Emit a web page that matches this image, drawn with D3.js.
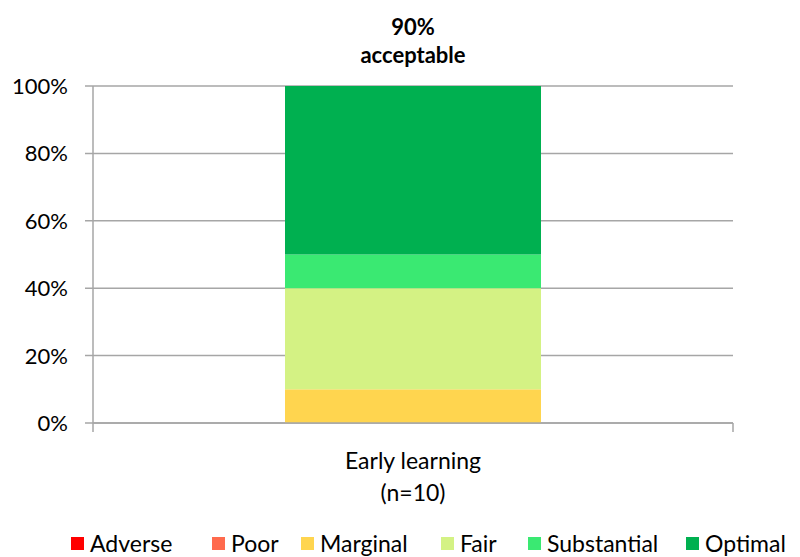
<!DOCTYPE html>
<html><head><meta charset="utf-8">
<script src="https://cdn.jsdelivr.net/npm/d3@7"></script>
<style>body{margin:0;background:#fff}svg{display:block}text{font-family:Lato,"Open Sans",sans-serif}</style>
</head><body>
<svg id="c" width="800" height="557"></svg>
<script>
const categories = ["Early learning\n(n=10)"];
const seriesNames = ["Adverse","Poor","Marginal","Fair","Substantial","Optimal"];
const seriesColors = ["#FF0000","#FF6A4D","#FFD54F","#D4F284","#3AE972","#00B050"];
const seriesValues = [[0],[0],[0.10],[0.30],[0.10],[0.50]];
const yTicks = [0,0.2,0.4,0.6,0.8,1.0];
const titleLines = ["90%","acceptable"];

const svg = d3.select("#c");
const m = {l:93, r:733, t:86, b:423};
const x = d3.scaleBand().domain(categories).range([m.l,m.r]).paddingInner(0.6).paddingOuter(0.3);
const y = d3.scaleLinear().domain([0,1]).range([m.b,m.t]);

svg.append("g").selectAll("line").data(yTicks).join("line")
  .attr("x1",m.l-8).attr("x2",m.r).attr("y1",d=>y(d)).attr("y2",d=>y(d))
  .attr("stroke","#A6A6A6").attr("stroke-width",1.5);
svg.append("line").attr("x1",m.l).attr("x2",m.l).attr("y1",m.t).attr("y2",m.b+9)
  .attr("stroke","#A6A6A6").attr("stroke-width",1.5);
svg.append("line").attr("x1",m.r).attr("x2",m.r).attr("y1",m.b).attr("y2",m.b+9)
  .attr("stroke","#A6A6A6").attr("stroke-width",1.5);

svg.append("g").selectAll("text").data(yTicks).join("text")
  .attr("x",68).attr("y",d=>y(d)).attr("dy","0.36em").attr("text-anchor","end")
  .attr("font-size",22).attr("fill","#000").text(d=>d3.format(".0%")(d));

const rows = categories.map((c,i)=>{const o={cat:c};seriesNames.forEach((s,j)=>o[s]=seriesValues[j][i]);return o;});
const stack = d3.stack().keys(seriesNames)(rows);
const bw = 256;
svg.append("g").selectAll("g").data(stack).join("g")
  .attr("fill",(d,i)=>seriesColors[i])
  .selectAll("rect").data(d=>d).join("rect")
  .attr("x",d=>x(d.data.cat)+x.bandwidth()/2-bw/2).attr("width",bw)
  .attr("y",d=>y(d[1])).attr("height",d=>y(d[0])-y(d[1]));

svg.append("line").attr("x1",m.l).attr("x2",m.r).attr("y1",m.b).attr("y2",m.b)
  .attr("stroke","#A6A6A6").attr("stroke-width",1.5);

categories.forEach(c=>{
  const cx = x(c)+x.bandwidth()/2;
  c.split("\n").forEach((ln,k)=>{
    svg.append("text").attr("x",cx).attr("y",469+k*32).attr("text-anchor","middle")
      .attr("font-size",23).attr("fill","#000").text(ln);
  });
});

titleLines.forEach((t,k)=>{
  svg.append("text").attr("x",(m.l+m.r)/2).attr("y",35+k*28).attr("text-anchor","middle")
    .attr("font-size",22).attr("font-weight","bold").attr("fill","#000").text(t);
});

const legX = [71,212,301,441,528,686];
const lg = svg.append("g").selectAll("g").data(seriesNames).join("g")
  .attr("transform",(d,i)=>`translate(${legX[i]},544)`);
lg.append("rect").attr("x",0).attr("y",-7).attr("width",13).attr("height",13).attr("fill",(d,i)=>seriesColors[i]);
lg.append("text").attr("x",19).attr("y",0).attr("dy","0.36em").attr("font-size",23).attr("fill","#000").text(d=>d);
</script>
</body></html>
